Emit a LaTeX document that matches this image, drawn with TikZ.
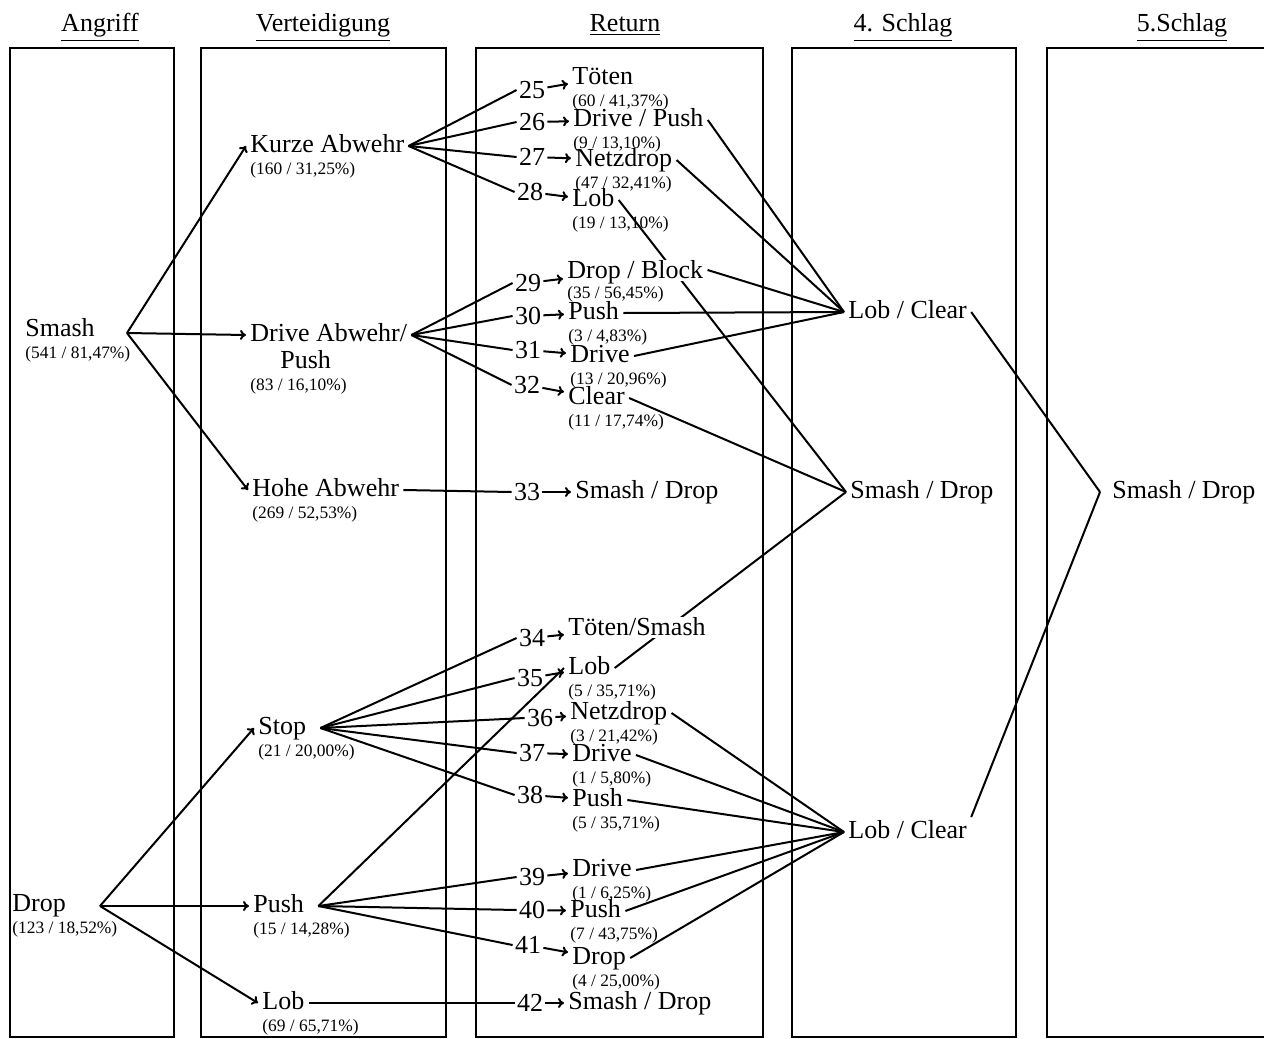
\documentclass[tikz,border=0pt]{standalone}
\usepackage{fontspec}
\setmainfont{Liberation Serif}
\usetikzlibrary{arrows.meta, positioning, backgrounds}
\newcommand{\shotfont}{\fontsize{13}{15}\selectfont}
\newcommand{\sharefont}{\fontsize{8.7}{10}\selectfont}

\begin{document}
\begin{tikzpicture}[
        x=0.5pt, y=-0.5pt,
        colbox/.style={draw, line width=1.3pt},
        head/.style={font=\shotfont, inner sep=1pt, text height=9.5pt, text depth=3pt},
        shot/.style={font=\shotfont, anchor=west, inner xsep=2pt, inner ysep=1pt,
                     text height=9.5pt, text depth=3pt},
        hideshot/.style={shot, fill=white, inner ysep=0pt, text depth=1pt},
        share/.style={font=\sharefont, inner xsep=2pt, inner ysep=0pt,
                      text height=6.5pt, text depth=2pt},
        num/.style={font=\shotfont, inner sep=1pt},
        link/.style={line width=1pt},
        arrow/.style={link, -{To[length=3pt, width=5pt]}},
    ]
        \useasboundingbox (0,0) rectangle (1264,1039);

        % columns
        \draw[colbox] (10,48) rectangle (174,1037);
        \draw[colbox] (201,48) rectangle (446,1037);
        \draw[colbox] (476,48) rectangle (763,1037);
        \draw[colbox] (792,48) rectangle (1016,1037);
        \draw[colbox] (1047,48) rectangle (1290,1037);

        \node[head] (hAngriff) at (100,25) {\underline{Angriff}};
        \node[head] (hVert) at (323,25) {\underline{Verteidigung}};
        \node[head] (hReturn) at (625,25) {\underline{Return}};
        \node[head] (hFour) at (903,25) {\underline{4. Schlag}};
        \node[head] (hFive) at (1182,25) {\underline{5.Schlag}};

        % Angriff
        \node[shot] (smash) at (21,330) {Smash};
        \node[share, below=0pt of smash.south west, anchor=north west] (smashS) {(541 / 81,47\%)};
        \node[shot] (drop) at (8,905) {Drop};
        \node[share, below=0pt of drop.south west, anchor=north west] (dropS) {(123 / 18,52\%)};
        \coordinate (fSmash) at (127,333);
        \coordinate (fDrop) at (100,906);

        % Verteidigung
        \node[shot] (kurz) at (246,146) {Kurze Abwehr};
        \node[share, below=0pt of kurz.south west, anchor=north west] (kurzS) {(160 / 31,25\%)};
        \node[shot] (dab) at (246,335) {Drive Abwehr/};
        \node[shot] (dabP) at (276,362) {Push};
        \node[share, anchor=north west] (dabS) at (dab.west |- dabP.south) {(83 / 16,10\%)};
        \node[shot] (hohe) at (248,490) {Hohe Abwehr};
        \node[share, below=0pt of hohe.south west, anchor=north west] (hoheS) {(269 / 52,53\%)};
        \node[shot] (stop) at (254,728) {Stop};
        \node[share, below=0pt of stop.south west, anchor=north west] (stopS) {(21 / 20,00\%)};
        \node[shot] (push) at (249,906) {Push};
        \node[share, below=0pt of push.south west, anchor=north west] (pushS) {(15 / 14,28\%)};
        \node[shot] (lob) at (258,1003) {Lob};
        \node[share, below=0pt of lob.south west, anchor=north west] (lobS) {(69 / 65,71\%)};
        \coordinate (fStop) at ([xshift=5pt]stop.east);
        \coordinate (fPush) at ([xshift=5pt]push.east);

        % Return
        \node[num] (n25) at (532,90) {25};
        \node[shot] (t25) at (568,78) {Töten};
        \node[share, below=0pt of t25.south west, anchor=north west] (s25) {(60 / 41,37\%)};
        \node[num] (n26) at (532,122) {26};
        \node[shot] (t26) at (569,120) {Drive / Push};
        \node[share, below=0pt of t26.south west, anchor=north west] (s26) {(9 / 13,10\%)};
        \node[num] (n27) at (532,157) {27};
        \node[shot] (t27) at (571,160) {Netzdrop};
        \node[share, below=0pt of t27.south west, anchor=north west] (s27) {(47 / 32,41\%)};
        \node[num] (n28) at (530,192) {28};
        \node[shot] (t28) at (568,200) {Lob};
        \node[share, below=0pt of t28.south west, anchor=north west] (s28) {(19 / 13,10\%)};

        \node[num] (n29) at (528,283) {29};
        \node[hideshot] (t29) at (563,270) {Drop / Block};
        \node[share, below=2pt of t29.south west, anchor=north west] (s29) {(35 / 56,45\%)};
        \node[num] (n30) at (528,316) {30};
        \node[shot] (t30) at (564,313) {Push};
        \node[share, below=0pt of t30.south west, anchor=north west] (s30) {(3 / 4,83\%)};
        \node[num] (n31) at (528,350) {31};
        \node[shot] (t31) at (566,356) {Drive};
        \node[share, below=0pt of t31.south west, anchor=north west] (s31) {(13 / 20,96\%)};
        \node[num] (n32) at (527,385) {32};
        \node[shot] (t32) at (564,398) {Clear};
        \node[share, below=0pt of t32.south west, anchor=north west] (s32) {(11 / 17,74\%)};

        \node[num] (n33) at (527,492) {33};
        \node[shot] (t33) at (571,492) {Smash / Drop};

        \node[num] (n34) at (532,638) {34};
        \node[hideshot] (t34) at (564,627) {Töten/Smash};
        \node[num] (n35) at (530,678) {35};
        \node[shot] (t35) at (564,668) {Lob};
        \node[share, below=0pt of t35.south west, anchor=north west] (s35) {(5 / 35,71\%)};
        \node[num] (n36) at (540,718) {36};
        \node[shot] (t36) at (566,713) {Netzdrop};
        \node[share, below=0pt of t36.south west, anchor=north west] (s36) {(3 / 21,42\%)};
        \node[num] (n37) at (532,753) {37};
        \node[shot] (t37) at (568,755) {Drive};
        \node[share, below=0pt of t37.south west, anchor=north west] (s37) {(1 / 5,80\%)};
        \node[num] (n38) at (530,795) {38};
        \node[shot] (t38) at (568,800) {Push};
        \node[share, below=0pt of t38.south west, anchor=north west] (s38) {(5 / 35,71\%)};

        \node[num] (n39) at (532,877) {39};
        \node[shot] (t39) at (568,870) {Drive};
        \node[share, below=0pt of t39.south west, anchor=north west] (s39) {(1 / 6,25\%)};
        \node[num] (n40) at (532,910) {40};
        \node[shot] (t40) at (566,911) {Push};
        \node[share, below=0pt of t40.south west, anchor=north west] (s40) {(7 / 43,75\%)};
        \node[num] (n41) at (528,945) {41};
        \node[shot] (t41) at (568,958) {Drop};
        \node[share, below=0pt of t41.south west, anchor=north west] (s41) {(4 / 25,00\%)};
        \node[num] (n42) at (530,1003) {42};
        \node[shot] (t42) at (564,1003) {Smash / Drop};

        % 4. und 5. Schlag
        \node[shot] (lc1) at (844,312) {Lob / Clear};
        \node[shot] (sd4) at (846,492) {Smash / Drop};
        \node[shot] (lc2) at (844,832) {Lob / Clear};
        \node[shot, inner xsep=6pt] (sd5) at (1100,492) {Smash / Drop};

        \begin{scope}[on background layer]
        \draw[arrow] (fSmash) -- (kurz.west);
        \draw[arrow] (fSmash) -- (dab.west);
        \draw[arrow] (fSmash) -- (hohe.west);
        \draw[arrow] (fDrop) -- (stop.west);
        \draw[arrow] (fDrop) -- (push.west);
        \draw[arrow] (fDrop) -- (lob.west);

        \draw[link] (kurz.east) -- (n25.west);
        \draw[link] (kurz.east) -- (n26.west);
        \draw[link] (kurz.east) -- (n27.west);
        \draw[link] (kurz.east) -- (n28.west);
        \draw[link] (dab.east) -- (n29.west);
        \draw[link] (dab.east) -- (n30.west);
        \draw[link] (dab.east) -- (n31.west);
        \draw[link] (dab.east) -- (n32.west);
        \draw[link] (hohe.east) -- (n33.west);
        \draw[link] (fStop) -- (n34.west);
        \draw[link] (fStop) -- (n35.west);
        \draw[link] (fStop) -- (n36.west);
        \draw[link] (fStop) -- (n37.west);
        \draw[link] (fStop) -- (n38.west);
        \draw[link] (fPush) -- (t35.west);
        \draw[link] (fPush) -- (n39.west);
        \draw[link] (fPush) -- (n40.west);
        \draw[link] (fPush) -- (n41.west);
        \draw[link] (lob.east) -- (n42.west);

        \draw[arrow] (n25) -- (t25);
        \draw[arrow] (n26) -- (t26);
        \draw[arrow] (n27) -- (t27);
        \draw[arrow] (n28) -- (t28);
        \draw[arrow] (n29) -- (t29);
        \draw[arrow] (n30) -- (t30);
        \draw[arrow] (n31) -- (t31);
        \draw[arrow] (n32) -- (t32);
        \draw[arrow] (n33) -- (t33);
        \draw[arrow] (n34) -- (t34);
        \draw[arrow] (n35) -- (t35);
        \draw[arrow] (n36) -- (t36);
        \draw[arrow] (n37) -- (t37);
        \draw[arrow] (n38) -- (t38);
        \draw[arrow] (n39) -- (t39);
        \draw[arrow] (n40) -- (t40);
        \draw[arrow] (n41) -- (t41);
        \draw[arrow] (n42) -- (t42);

        \draw[link] (t26.east) -- (lc1.west);
        \draw[link] (t27.east) -- (lc1.west);
        \draw[link] (t29.east) -- (lc1.west);
        \draw[link] (t30.east) -- (lc1.west);
        \draw[link] (t31.east) -- (lc1.west);
        \draw[link] (t28.east) -- (sd4.west);
        \draw[link] (t32.east) -- (sd4.west);
        \draw[link] (t35.east) -- (sd4.west);
        \draw[link] (t36.east) -- (lc2.west);
        \draw[link] (t37.east) -- (lc2.west);
        \draw[link] (t38.east) -- (lc2.west);
        \draw[link] (t39.east) -- (lc2.west);
        \draw[link] (t40.east) -- (lc2.west);
        \draw[link] (t41.east) -- (lc2.west);
        \draw[link] (lc1.east) -- (sd5.west);
        \draw[link] (lc2.north east) -- (sd5.west);
        \end{scope}
    \end{tikzpicture}
\end{document}
